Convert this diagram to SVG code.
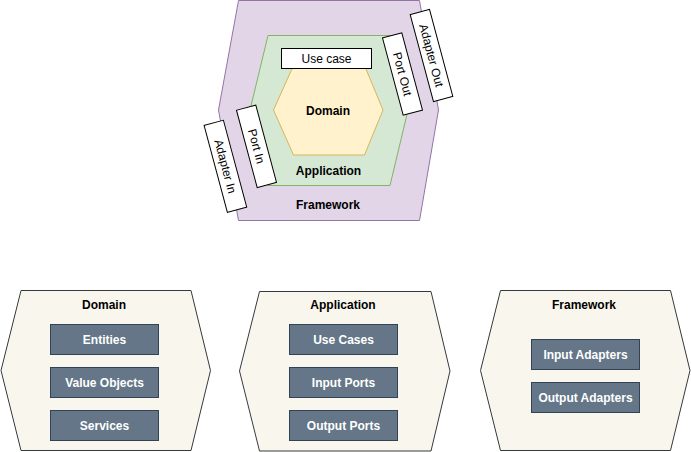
<svg xmlns="http://www.w3.org/2000/svg" width="691" height="452" viewBox="0 0 691 452">
<style>
text{font-family:"Liberation Sans",Arial,sans-serif;font-size:12px;text-anchor:middle;}
.b{font-weight:bold;}
.lbl{fill:#000;}
.w{fill:#fff;font-weight:bold;}
.box{fill:#fff;stroke:#000;stroke-width:1;}
.hx{fill:#f9f7ed;stroke:#36393d;stroke-width:1;}
.sv{fill:#647687;stroke:#314354;stroke-width:1;}
</style>
<rect width="691" height="452" fill="#fff"/>
<g id="framework-hex">
<polygon points="238.5,0.5 419.5,0.5 438.5,110 419.5,220.5 238.5,220.5 218.5,110" fill="#e1d5e7" stroke="#9673a6"/>
<text class="b" x="328" y="208.5">Framework</text>
</g>
<g id="application-hex">
<polygon points="268,35.5 390,35.5 408,110 390,185.5 268,185.5 250,110" fill="#d5e8d4" stroke="#82b366"/>
<text class="b" x="328.5" y="174.5">Application</text>
</g>
<g id="domain-hex">
<polygon points="293.5,65.5 364.5,65.5 383,110 364.5,155 293.5,155 273.5,110" fill="#fff2cc" stroke="#d6b656"/>
<text class="b" x="328" y="114.5">Domain</text>
</g>
<g id="use-case">
<rect class="box" x="281.5" y="48.5" width="90" height="20"/>
<text x="326.5" y="62.5">Use case</text>
</g>
<g id="port-out" transform="rotate(75 402.5 74)">
<rect class="box" x="362.5" y="64" width="80" height="20"/>
<text x="402.5" y="78.2">Port Out</text>
</g>
<g id="adapter-out" transform="rotate(75 431.5 55.5)">
<rect class="box" x="386.5" y="45.5" width="90" height="20"/>
<text x="431.5" y="59.7">Adapter Out</text>
</g>
<g id="port-in" transform="rotate(75 256.5 146.3)">
<rect class="box" x="216.5" y="136.3" width="80" height="20"/>
<text x="256.5" y="150.5">Port In</text>
</g>
<g id="adapter-in" transform="rotate(75 225.4 166.3)">
<rect class="box" x="180.4" y="156.3" width="90" height="20"/>
<text x="225.4" y="170.5">Adapter In</text>
</g>
<g id="connectors"></g>
<g id="domain-layer">
<polygon class="hx" points="21,290.5 191,290.5 210.5,370.5 191,450.5 21,450.5 1,370.5"/>
<text class="b" x="104" y="308.5">Domain</text>
</g>
<g id="entities">
<rect class="sv" x="50.5" y="324.5" width="108" height="30"/>
<text class="w" x="104.5" y="343.5">Entities</text>
</g>
<g id="value-objects">
<rect class="sv" x="50.5" y="367.5" width="108" height="30"/>
<text class="w" x="104.5" y="386.5">Value Objects</text>
</g>
<g id="services">
<rect class="sv" x="50.5" y="410.5" width="108" height="30"/>
<text class="w" x="104.5" y="429.5">Services</text>
</g>
<g id="application-layer">
<polygon class="hx" points="259.5,291.5 431,291.5 450,371 431,451 259.5,451 239.5,371"/>
<text class="b" x="343" y="308.5">Application</text>
</g>
<g id="use-cases">
<rect class="sv" x="289.5" y="324.5" width="108" height="30"/>
<text class="w" x="343.5" y="343.5">Use Cases</text>
</g>
<g id="input-ports">
<rect class="sv" x="289.5" y="367.5" width="108" height="30"/>
<text class="w" x="343.5" y="386.5">Input Ports</text>
</g>
<g id="output-ports">
<rect class="sv" x="289.5" y="410.5" width="108" height="30"/>
<text class="w" x="343.5" y="429.5">Output Ports</text>
</g>
<g id="framework-layer">
<polygon class="hx" points="500.5,290.5 670.5,290.5 690,370.5 670.5,450.5 500.5,450.5 480.5,370.5"/>
<text class="b" x="584" y="308.5">Framework</text>
</g>
<g id="input-adapters">
<rect class="sv" x="531.5" y="339.5" width="108" height="30"/>
<text class="w" x="585.5" y="358.5">Input Adapters</text>
</g>
<g id="output-adapters">
<rect class="sv" x="531.5" y="382.5" width="108" height="30"/>
<text class="w" x="585.5" y="401.5">Output Adapters</text>
</g>
</svg>
